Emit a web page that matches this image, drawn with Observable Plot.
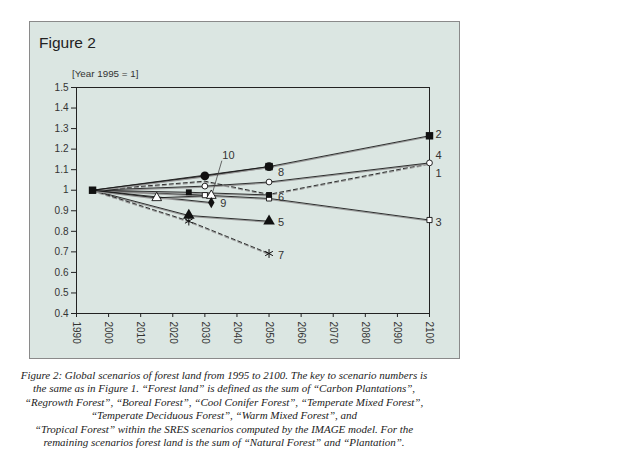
<!DOCTYPE html>
<html>
<head>
<meta charset="utf-8">
<script src="https://cdn.jsdelivr.net/npm/d3@7"></script>
<script src="https://cdn.jsdelivr.net/npm/@observablehq/plot@0.6"></script>
<style>
  html, body { margin: 0; padding: 0; background: #fff; }
  body { width: 618px; height: 461px; position: relative; overflow: hidden;
         font-family: "Liberation Sans", Arial, sans-serif; color: #222; }
  #panel { position: absolute; left: 29px; top: 21px; width: 431px; height: 338px;
           background: #dbe6e2; }
  #panel-border { position: absolute; left: 29px; top: 21px; width: 431px; height: 338px;
           box-sizing: border-box; border: 1.5px solid #8a8a8a; pointer-events: none; }
  #chart { position: absolute; left: 29px; top: 21px; }
  #fig-title { position: absolute; left: 39px; top: 34px; font-size: 15.5px; color: #222; }
  #unit { position: absolute; left: 72px; top: 68px; font-size: 9.8px; color: #333; }
  #caption { position: absolute; left: 0; top: 369px; width: 448px; text-align: center;
             font-family: "Liberation Serif", "DejaVu Serif", serif; font-style: italic;
             font-size: 11px; line-height: 13.4px; color: #222; white-space: nowrap; }
</style>
</head>
<body>
<div id="panel"></div>
<div id="chart"></div>
<div id="panel-border"></div>
<div id="fig-title">Figure 2</div>
<div id="unit">[Year 1995 = 1]</div>
<div id="caption">
Figure 2: Global scenarios of forest land from 1995 to 2100. The key to scenario numbers is<br>
the same as in Figure 1. “Forest land” is defined as the sum of “Carbon Plantations”,<br>
“Regrowth Forest”, “Boreal Forest”, “Cool Conifer Forest”, “Temperate Mixed Forest”,<br>
“Temperate Deciduous Forest”, “Warm Mixed Forest”, and<br>
“Tropical Forest” within the SRES scenarios computed by the IMAGE model. For the<br>
remaining scenarios forest land is the sum of “Natural Forest” and “Plantation”.
</div>
<script>
// Forest land index per scenario, [year, value] with 1995 = 1
const scenario1 = [[1995, 1.00], [2030, 1.044], [2050, 0.98], [2100, 1.13]];
const scenario2 = [[1995, 1.00], [2050, 1.115], [2100, 1.265]];
const scenario3 = [[1995, 1.00], [2030, 0.976], [2050, 0.96], [2100, 0.855]];
const scenario4 = [[1995, 1.00], [2030, 1.02], [2050, 1.04], [2100, 1.133]];
const scenario5 = [[1995, 1.00], [2025, 0.877], [2050, 0.849]];
const scenario6 = [[1995, 1.00], [2025, 0.99], [2050, 0.977]];
const scenario7 = [[1995, 1.00], [2025, 0.85], [2050, 0.692]];
const scenario8 = [[1995, 1.00], [2030, 1.07], [2050, 1.115]];
const scenario9 = [[1995, 1.00], [2032, 0.94]];
const scenario10 = [[1995, 1.00], [2015, 0.963], [2032, 0.974]];

const scenarioNames = ["1", "2", "3", "4", "5", "6", "7", "8", "9", "10"];
const scenarioData = [scenario1, scenario2, scenario3, scenario4, scenario5,
                      scenario6, scenario7, scenario8, scenario9, scenario10];

const xTicks = [1990, 2000, 2010, 2020, 2030, 2040, 2050, 2060, 2070, 2080, 2090, 2100];
const yTicks = [0.4, 0.5, 0.6, 0.7, 0.8, 0.9, 1.0, 1.1, 1.2, 1.3, 1.4, 1.5];
const yTickLabels = ["0.4", "0.5", "0.6", "0.7", "0.8", "0.9", "1", "1.1", "1.2", "1.3", "1.4", "1.5"];

// Long-format rows for the marks
const rows = scenarioNames.flatMap((name, i) =>
  scenarioData[i].map(([year, value]) => ({scenario: name, year, value})));

// Drawing style for each scenario
const dashed = new Set(["1", "7"]);
const markers = {
  "2":  {symbol: "square",   r: 4.2, fill: "#111", stroke: "none"},
  "3":  {symbol: "square",   r: 2.9, fill: "#fff", stroke: "#111", strokeWidth: 0.9},
  "4":  {symbol: "circle",   r: 2.9, fill: "#fff", stroke: "#111", strokeWidth: 0.9},
  "5":  {symbol: "triangle", r: 4.3, fill: "#111", stroke: "none"},
  "6":  {symbol: "square",   r: 3.3, fill: "#111", stroke: "none"},
  "7":  {symbol: "asterisk", r: 4.2, fill: "none", stroke: "#111", strokeWidth: 1},
  "8":  {symbol: "circle",   r: 4.4, fill: "#111", stroke: "none"},
  "9":  {symbol: "diamond",  r: 3.4, fill: "#111", stroke: "none"},
  "10": {symbol: "triangle", r: 3.6, fill: "#fff", stroke: "#111", strokeWidth: 0.9}
};
// Offset of each scenario's number from its last point (px)
const labelOffset = {
  "1": [6, 10], "2": [6, -1], "3": [6, 2], "4": [6, -7], "5": [9, 1],
  "6": [9, 3], "7": [9, 2], "8": [9, 6], "9": [9, 1], "10": [11, -40]
};

const marks = [];
// Lines: a soft grey underlay and a dark line on top
for (const name of scenarioNames) {
  const pts = rows.filter(d => d.scenario === name);
  const dash = dashed.has(name) ? "4,3" : null;
  marks.push(Plot.line(pts, {x: "year", y: "value", stroke: "#9a9a9a", strokeWidth: 1.1, dy: 1, strokeDasharray: dash}));
  marks.push(Plot.line(pts, {x: "year", y: "value", stroke: "#1a1a1a", strokeWidth: 0.9, strokeDasharray: dash}));
}
// Point markers (open symbols first, filled ones on top)
const order = ["3", "4", "10", "7", "6", "9", "5", "8", "2"];
for (const name of order) {
  const m = markers[name];
  const pts = rows.filter(d => d.scenario === name && (d.year > 1995 || name === "2"));
  marks.push(Plot.dot(pts, {x: "year", y: "value", ...m}));
}
// Leader line for scenario 10
const last10 = rows.filter(d => d.scenario === "10").slice(-1);
marks.push(Plot.link(last10, {
  x1: d => d.year + 0.4, y1: d => d.value + 0.015,
  x2: d => d.year + 3.3, y2: d => d.value + 0.17,
  stroke: "#444", strokeWidth: 0.8
}));
// Scenario numbers next to their final points
for (const name of scenarioNames) {
  const last = rows.filter(d => d.scenario === name).slice(-1);
  const [dx, dy] = labelOffset[name];
  marks.push(Plot.text(last, {x: "year", y: "value", text: "scenario", dx, dy,
    textAnchor: "start", fontSize: 11, fill: "#333"}));
}

const chart = Plot.plot({
  width: 431,
  height: 338,
  marginLeft: 47,
  marginRight: 31,
  marginTop: 66,
  marginBottom: 46,
  x: {domain: [1990, 2100]},
  y: {domain: [0.4, 1.5]},
  style: {background: "transparent", fontFamily: "Liberation Sans, Arial, sans-serif",
          fontSize: "10px", color: "#333", overflow: "visible"},
  marks: [
    Plot.frame({stroke: "#222", strokeWidth: 1}),
    Plot.axisY({ticks: yTicks, tickFormat: (d, i) => yTickLabels[i], tickSize: 5,
                tickPadding: 3, label: null, stroke: "#222"}),
    Plot.axisX({ticks: xTicks, tickFormat: d => String(d), tickRotate: 90, tickSize: 4,
                tickPadding: 4, label: null, stroke: "#222"}),
    ...marks
  ]
});
document.getElementById("chart").appendChild(chart);
</script>
</body>
</html>
